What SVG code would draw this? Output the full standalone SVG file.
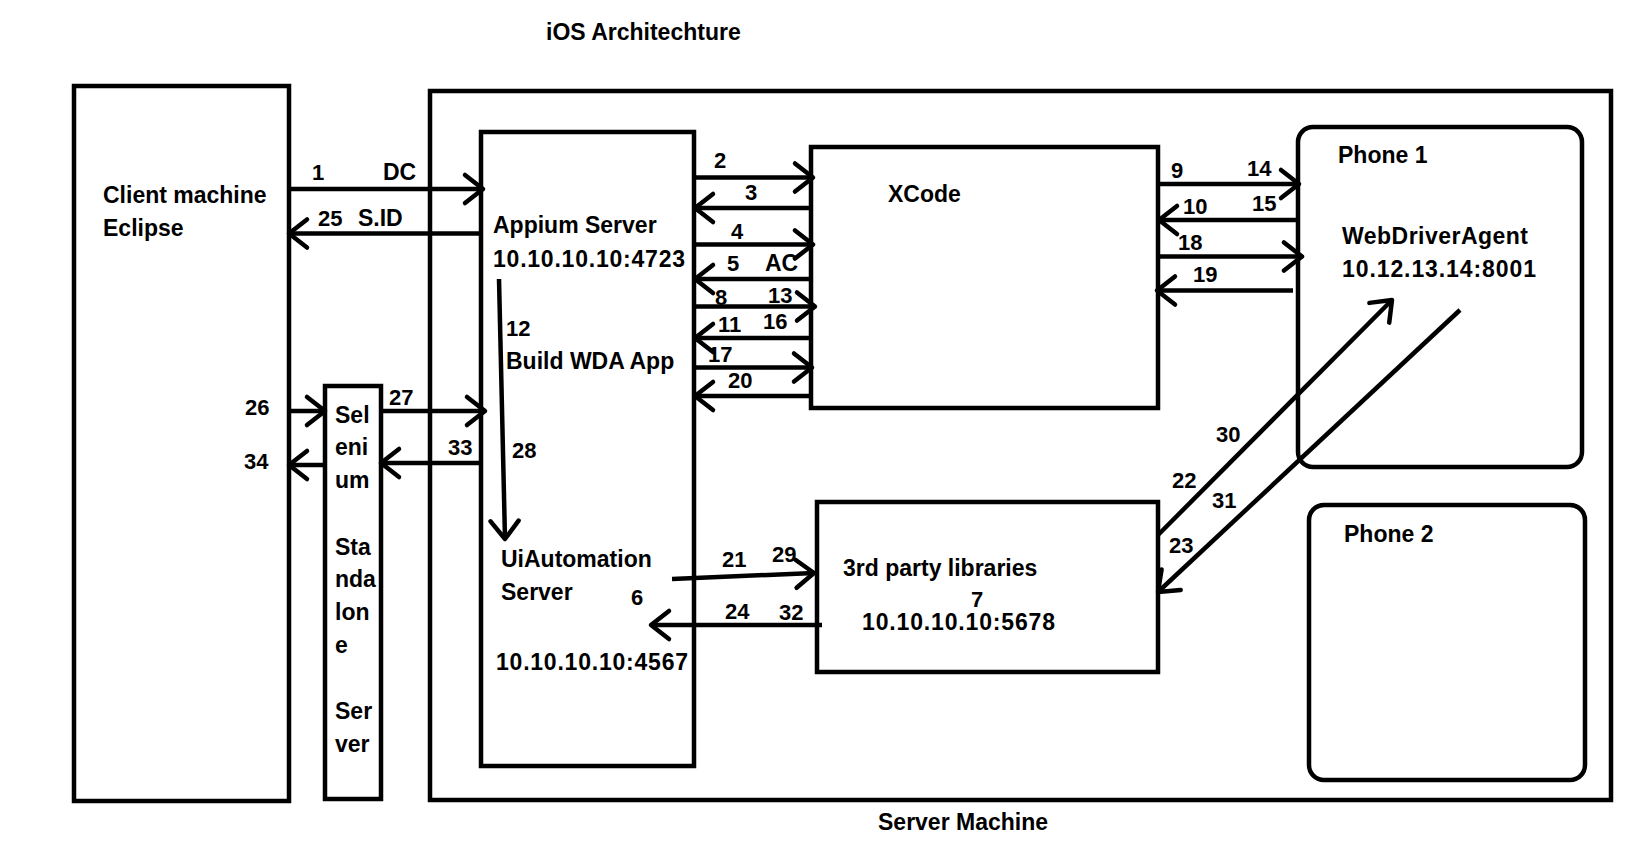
<svg xmlns="http://www.w3.org/2000/svg" width="1644" height="866" viewBox="0 0 1644 866">
<defs>
<style>
.box{fill:none;stroke:#000;stroke-width:4.5}
.c line,.c path{fill:none;stroke:#000;stroke-width:4.5;marker-end:url(#arr)}
text{font-family:"Liberation Sans",Arial,sans-serif;font-weight:bold;font-size:23px;fill:#000}
.n{font-size:22px}
</style>
<marker id="arr" markerUnits="userSpaceOnUse" viewBox="-24 -20 30 40" refX="0" refY="0" markerWidth="30" markerHeight="40" orient="auto">
<path d="M-18,-14 L0,0 L-18,14" fill="none" stroke="#000" stroke-width="4.5" stroke-linecap="round" stroke-linejoin="round"/>
</marker>
</defs>
<rect width="1644" height="866" fill="#fff"/>
<text x="546" y="40">iOS Architechture</text>

<g id="client">
<rect class="box" x="74" y="86" width="215" height="715"/>
<text x="103" y="203">Client machine</text>
<text x="103" y="236">Eclipse</text>
</g>

<g id="selenium">
<rect class="box" x="325" y="386" width="56" height="413"/>
<text x="335" y="423">Sel</text>
<text x="335" y="455">eni</text>
<text x="335" y="488">um</text>
<text x="335" y="555">Sta</text>
<text x="335" y="587">nda</text>
<text x="335" y="620">lon</text>
<text x="335" y="653">e</text>
<text x="335" y="719">Ser</text>
<text x="335" y="752">ver</text>
</g>

<g id="server">
<rect class="box" x="430" y="91" width="1181" height="709"/>
<text x="878" y="830">Server Machine</text>
</g>

<g id="appium">
<rect class="box" x="481" y="132" width="213" height="634"/>
<text x="493" y="233">Appium Server</text>
<text x="493" y="267" textLength="192">10.10.10.10:4723</text>
<text x="506" y="369">Build WDA App</text>
<text x="501" y="567">UiAutomation</text>
<text x="501" y="600">Server</text>
<text x="496" y="670" textLength="192">10.10.10.10:4567</text>
</g>

<g id="xcode">
<rect class="box" x="811" y="147" width="347" height="261"/>
<text x="888" y="202">XCode</text>
</g>

<g id="thirdparty">
<rect class="box" x="817" y="502" width="341" height="170"/>
<text x="843" y="576">3rd party libraries</text>
<text x="971" y="607" class="n">7</text>
<text x="862" y="630" textLength="193">10.10.10.10:5678</text>
</g>

<g id="phone1">
<rect class="box" x="1298" y="127" width="284" height="340" rx="15"/>
<text x="1338" y="163">Phone 1</text>
<text x="1342" y="244" textLength="186">WebDriverAgent</text>
<text x="1342" y="277" textLength="194">10.12.13.14:8001</text>
</g>

<g id="phone2">
<rect class="box" x="1309" y="505" width="276" height="275" rx="15"/>
<text x="1344" y="542">Phone 2</text>
</g>

<g id="connectors" class="c">
<line x1="289" y1="189" x2="483" y2="189"/>
<line x1="481" y1="233.5" x2="289" y2="233.5"/>
<line x1="694" y1="177.5" x2="813" y2="177.5"/>
<line x1="811" y1="208" x2="695" y2="208"/>
<line x1="694" y1="244.5" x2="813" y2="244.5"/>
<line x1="811" y1="279" x2="695" y2="279"/>
<line x1="694" y1="306.5" x2="815" y2="306.5"/>
<line x1="811" y1="338" x2="695" y2="338"/>
<line x1="692" y1="367.5" x2="812" y2="367.5"/>
<line x1="811" y1="396" x2="695" y2="396"/>
<line x1="1157" y1="184" x2="1299" y2="184"/>
<line x1="1298" y1="220" x2="1159" y2="220"/>
<line x1="1157" y1="256.5" x2="1302" y2="256.5"/>
<line x1="1293" y1="290.5" x2="1157" y2="290.5"/>
<line x1="1158" y1="535" x2="1392" y2="300"/>
<line x1="1460" y1="310" x2="1158" y2="592"/>
<line x1="499" y1="279" x2="505" y2="539"/>
<line x1="289" y1="411" x2="325" y2="411"/>
<line x1="381" y1="411" x2="485" y2="411"/>
<line x1="325" y1="465" x2="289" y2="465"/>
<line x1="482" y1="463" x2="381" y2="463"/>
<line x1="672" y1="579" x2="814" y2="573"/>
<line x1="822" y1="625" x2="651" y2="625"/>
</g>

<g id="labels" class="n">
<text class="n" x="312" y="180">1</text>
<text x="383" y="180">DC</text>
<text class="n" x="318" y="226">25</text>
<text x="358" y="226">S.ID</text>
<text class="n" x="506" y="336">12</text>
<text class="n" x="714" y="168">2</text>
<text class="n" x="745" y="200">3</text>
<text class="n" x="731" y="239">4</text>
<text class="n" x="727" y="271">5</text>
<text x="765" y="271">AC</text>
<text class="n" x="715" y="305">8</text>
<text class="n" x="768" y="303">13</text>
<text class="n" x="718" y="332">11</text>
<text class="n" x="763" y="329">16</text>
<text class="n" x="708" y="362">17</text>
<text class="n" x="728" y="388">20</text>
<text class="n" x="1171" y="178">9</text>
<text class="n" x="1247" y="176">14</text>
<text class="n" x="1183" y="214">10</text>
<text class="n" x="1252" y="211">15</text>
<text class="n" x="1178" y="250">18</text>
<text class="n" x="1193" y="282">19</text>
<text class="n" x="1216" y="442">30</text>
<text class="n" x="1172" y="488">22</text>
<text class="n" x="1212" y="508">31</text>
<text class="n" x="1169" y="553">23</text>
<text class="n" x="245" y="415">26</text>
<text class="n" x="244" y="469">34</text>
<text class="n" x="389" y="405">27</text>
<text class="n" x="448" y="455">33</text>
<text class="n" x="512" y="458">28</text>
<text class="n" x="631" y="605">6</text>
<text class="n" x="722" y="567">21</text>
<text class="n" x="772" y="562">29</text>
<text class="n" x="725" y="619">24</text>
<text class="n" x="779" y="620">32</text>
</g>
</svg>
